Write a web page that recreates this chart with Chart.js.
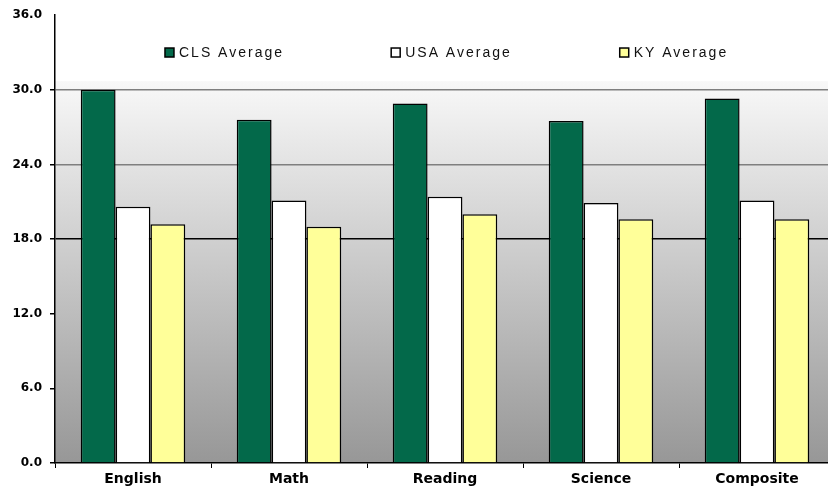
<!DOCTYPE html>
<html>
<head>
<meta charset="utf-8">
<script src="https://cdn.jsdelivr.net/npm/chart.js@4.4.0/dist/chart.umd.min.js"></script>
<style>
  html, body { margin: 0; padding: 0; background: #fff; overflow: hidden; }
  #wrap { width: 835px; height: 488px; }
</style>
</head>
<body>
<div id="wrap"><canvas id="act-chart"></canvas></div>
<script>
var subjects = ["English", "Math", "Reading", "Science", "Composite"];
var clsAverage = [30.0, 27.6, 28.9, 27.5, 29.3];
var usaAverage = [20.6, 21.1, 21.4, 20.9, 21.1];
var kyAverage = [19.2, 19.0, 20.0, 19.6, 19.6];
var yTicks = [0, 6, 12, 18, 24, 30, 36];

// plot background: white band under the legend, grey gradient below
var plotBackground = {
    id: 'plotBackground',
    beforeDraw: function(chart) {
        var ctx = chart.ctx, a = chart.chartArea;
        var bandBottom = chart.scales.y.getPixelForValue(30.7);
        var grad = ctx.createLinearGradient(0, bandBottom, 0, a.bottom);
        grad.addColorStop(0, '#f8f8f8');
        grad.addColorStop(1, '#979797');
        ctx.save();
        ctx.fillStyle = '#ffffff';
        ctx.fillRect(a.left, a.top, a.right - a.left, bandBottom - a.top);
        ctx.fillStyle = grad;
        ctx.fillRect(a.left, bandBottom, a.right - a.left, a.bottom - bandBottom);
        ctx.restore();
    }
};

// legend drawn inside the plot, in the white band
var innerLegend = {
    id: 'innerLegend',
    afterDraw: function(chart) {
        var ctx = chart.ctx, a = chart.chartArea;
        var w = a.right - a.left;
        var spots = [0.141, 0.431, 0.724];
        var y = chart.scales.y.getPixelForValue(33.0);
        ctx.save();
        ctx.font = '14px "Liberation Sans", Arial, sans-serif';
        ctx.letterSpacing = '2px';
        ctx.textBaseline = 'middle';
        chart.data.datasets.forEach(function(ds, i) {
            var x = a.left + w * spots[i];
            ctx.fillStyle = ds.backgroundColor;
            ctx.strokeStyle = '#000';
            ctx.lineWidth = 1.5;
            ctx.fillRect(x, y - 4.5, 9, 9);
            ctx.strokeRect(x, y - 4.5, 9, 9);
            ctx.fillStyle = '#111';
            ctx.fillText(ds.label, x + 14, y + 1);
        });
        ctx.restore();
    }
};

var ctx = document.getElementById('act-chart').getContext('2d');
new Chart(ctx, {
    type: 'bar',
    data: {
        labels: subjects,
        datasets: [{
            label: 'CLS Average',
            data: clsAverage,
            backgroundColor: '#03694a',
            borderColor: '#000',
            borderWidth: 1.5
        }, {
            label: 'USA Average',
            data: usaAverage,
            backgroundColor: '#ffffff',
            borderColor: '#000',
            borderWidth: 1.5
        }, {
            label: 'KY Average',
            data: kyAverage,
            backgroundColor: '#ffff99',
            borderColor: '#000',
            borderWidth: 1.5
        }]
    },
    plugins: [plotBackground, innerLegend],
    options: {
        responsive: true,
        maintainAspectRatio: false,
        animation: false,
        layout: { padding: { top: 15, right: 0, bottom: 0, left: 0 } },
        plugins: {
            legend: { display: false },
            tooltip: { enabled: false }
        },
        datasets: {
            bar: { categoryPercentage: 0.67, barPercentage: 1.0 }
        },
        scales: {
            x: {
                afterFit: function(scale) { scale.height = 25; },
                grid: {
                    offset: true,
                    drawOnChartArea: false,
                    drawTicks: true,
                    tickLength: 5,
                    color: '#000'
                },
                border: { display: true, color: '#000', width: 1.5 },
                ticks: {
                    color: '#000',
                    padding: 3,
                    font: { size: 14, weight: 'bold', family: '"DejaVu Sans", Verdana, sans-serif' }
                }
            },
            y: {
                min: 0,
                max: 36,
                afterFit: function(scale) { scale.width = 55; },
                afterBuildTicks: function(scale) {
                    scale.ticks = yTicks.map(function(v) { return { value: v }; });
                },
                grid: {
                    drawTicks: true,
                    tickLength: 5,
                    lineWidth: 1.5,
                    color: function(c) {
                        var v = c.tick ? c.tick.value : null;
                        if (v === 30 || v === 24) return '#7f7f7f';
                        if (v === 18) return '#000';
                        return 'rgba(0,0,0,0)';
                    },
                    tickColor: function(c) {
                        return c.tick && c.tick.value === 36 ? 'rgba(0,0,0,0)' : '#000';
                    }
                },
                border: { display: true, color: '#000', width: 1.5 },
                ticks: {
                    color: '#000',
                    padding: 8,
                    font: { size: 12, weight: 'bold', family: '"DejaVu Sans", Verdana, sans-serif' },
                    callback: function(value) { return Number(value).toFixed(1); }
                }
            }
        }
    }
});
</script>
</body>
</html>
